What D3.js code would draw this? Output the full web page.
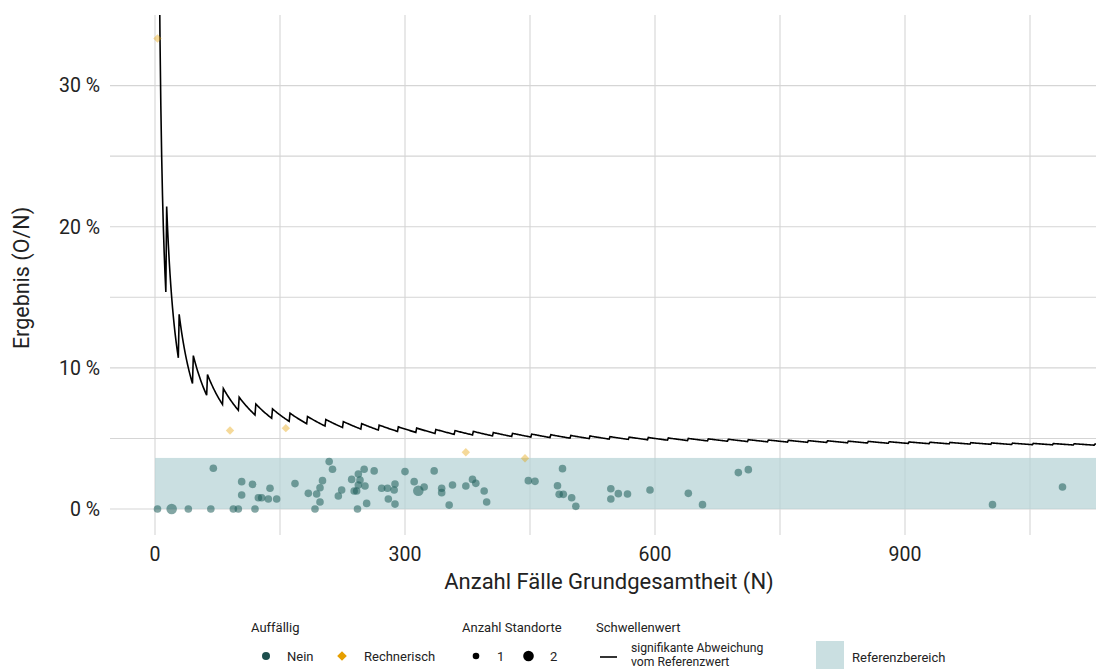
<!DOCTYPE html>
<html>
<head>
<meta charset="utf-8">
<script src="https://cdn.jsdelivr.net/npm/d3@7"></script>
<style>
  html, body { margin: 0; padding: 0; background: #fff; }
  svg { display: block; font-family: Roboto, "Noto Sans", sans-serif; }
</style>
</head>
<body>
<svg id="chart" width="1096" height="669"></svg>
<script>
// Standorte: Fallzahl (N) und Ergebnis (O/N in %)
const caseCounts = [3, 20, 40, 67, 70, 94, 100, 104, 104, 117, 120, 124, 128, 136, 138, 146, 168, 184, 192, 194,
  198, 198, 201, 209, 213, 220, 224, 236, 239, 242, 243, 244, 246, 244, 251, 252, 254, 263, 272, 279,
  280, 287, 288, 288, 300, 311, 316, 323, 335, 344, 344, 353, 357, 373, 381, 385, 395, 398, 448, 456,
  483, 489, 485, 490, 500, 505, 547, 547, 556, 567, 594, 640, 657, 700, 712, 1005, 1089];
const rates = [0, 0, 0, 0, 2.89, 0, 0, 1.94, 0.99, 1.75, 0, 0.80, 0.80, 0.71, 1.47, 0.71, 1.80, 1.11, 0, 1.06,
  0.50, 1.51, 2.01, 3.36, 2.82, 0.92, 1.35, 2.10, 1.28, 1.28, 0, 2.48, 2.06, 1.70, 2.82, 1.63, 0.40, 2.70, 1.47, 1.47,
  0.71, 1.35, 1.77, 0.35, 2.65, 1.94, 1.30, 1.56, 2.70, 1.47, 1.16, 0.28, 1.70, 1.63, 2.10, 1.82, 1.28, 0.50, 2.01, 1.96,
  1.65, 2.86, 1.04, 1.04, 0.80, 0.19, 1.44, 0.71, 1.09, 1.06, 1.35, 1.11, 0.31, 2.58, 2.79, 0.31, 1.56];
const siteCounts = [1, 2, 1, 1, 1, 1, 1, 1, 1, 1, 1, 1, 1, 1, 1, 1, 1, 1, 1, 1,
  1, 1, 1, 1, 1, 1, 1, 1, 1, 1, 1, 1, 1, 1, 1, 1, 1, 1, 1, 1,
  1, 1, 1, 1, 1, 1, 2, 1, 1, 1, 1, 1, 1, 1, 1, 1, 1, 1, 1, 1,
  1, 1, 1, 1, 1, 1, 1, 1, 1, 1, 1, 1, 1, 1, 1, 1, 1];

// Rechnerisch auffällige Standorte
const flaggedCounts = [3, 90, 157, 373, 444];
const flaggedRates = [33.33, 5.56, 5.73, 4.02, 3.60];

// Schwellenwert: Fallzahlen, ab denen die kritische Anzahl O um 1 steigt (Start bei O = 2)
const thresholdStartCount = 2;
const thresholdJumps = [14, 29, 46, 63, 82, 101, 121, 141, 162, 183, 205, 226, 248, 269, 292, 314, 337, 360,
  382, 406, 429, 452, 475, 499, 522, 546, 569, 592, 616, 640, 664, 688, 712, 736, 760, 784, 807, 832,
  856, 881, 905, 930, 954, 979, 1004, 1029, 1054, 1078, 1103, 1128];

// Referenzbereich (obere Grenze, %)
const referenceUpper = 3.62;

const xTicks = [0, 300, 600, 900];
const xMinor = [150, 450, 750, 1050];
const yTicks = [0, 10, 20, 30];
const yMinor = [5, 15, 25];

const svg = d3.select("#chart");
const plotLeft = 110, plotRight = 1096, plotTop = 15, plotBottom = 535;

const x = d3.scaleLinear().domain([-54, 1129.2]).range([plotLeft, plotRight]);
const y = d3.scaleLinear().domain([-1.84, 35]).range([plotBottom, plotTop]);

// Gitter
const grid = svg.append("g");
grid.selectAll("line.vx").data(xMinor.concat(xTicks)).join("line")
  .attr("x1", d => x(d)).attr("x2", d => x(d)).attr("y1", plotTop).attr("y2", plotBottom)
  .attr("stroke", "#d5d5d5").attr("stroke-width", 1.1);
grid.selectAll("line.hy").data(yMinor.concat(yTicks)).join("line")
  .attr("x1", plotLeft).attr("x2", plotRight).attr("y1", d => y(d)).attr("y2", d => y(d))
  .attr("stroke", "#d5d5d5").attr("stroke-width", 1.1);

svg.append("clipPath").attr("id", "plotClip").append("rect")
  .attr("x", plotLeft).attr("y", plotTop).attr("width", plotRight - plotLeft).attr("height", plotBottom - plotTop);

const plot = svg.append("g").attr("clip-path", "url(#plotClip)");

// Referenzbereich
plot.append("rect")
  .attr("x", x(0)).attr("y", y(referenceUpper))
  .attr("width", plotRight - x(0)).attr("height", y(0) - y(referenceUpper))
  .attr("fill", "#b6d3d5").attr("fill-opacity", 0.72);

// Schwellenwertlinie O/N
const thresholdPoints = [];
for (let n = 5; n <= 1130; n++) {
  const k = thresholdStartCount + thresholdJumps.filter(j => j <= n).length;
  thresholdPoints.push([n, 100 * k / n]);
}
plot.append("path")
  .datum(thresholdPoints)
  .attr("fill", "none").attr("stroke", "#000").attr("stroke-width", 1.6)
  .attr("stroke-linejoin", "miter")
  .attr("d", d3.line().x(d => x(d[0])).y(d => y(d[1])));

// Standorte
const sites = caseCounts.map((n, i) => ({ n, r: rates[i], s: siteCounts[i] }));
const radius = d3.scaleOrdinal().domain([1, 2]).range([3.8, 5.3]);
plot.selectAll("circle.site").data(sites).join("circle")
  .attr("cx", d => x(d.n)).attr("cy", d => y(d.r)).attr("r", d => radius(d.s))
  .attr("fill", "#1d5c5a").attr("fill-opacity", 0.55);

const flagged = flaggedCounts.map((n, i) => ({ n, r: flaggedRates[i] }));
const diamond = (cx, cy, h) => `M${cx},${cy - h}L${cx + h},${cy}L${cx},${cy + h}L${cx - h},${cy}Z`;
plot.selectAll("path.flag").data(flagged).join("path")
  .attr("d", d => diamond(x(d.n), y(d.r), 4.2))
  .attr("fill", "#e69f00").attr("fill-opacity", 0.4);

// Achsenbeschriftungen
const textColor = "#222";
svg.append("g").selectAll("text").data(yTicks).join("text")
  .attr("x", 100).attr("y", d => y(d)).attr("dy", "0.35em")
  .attr("text-anchor", "end").attr("font-size", 19.5).attr("fill", textColor)
  .text(d => d + " %");
svg.append("g").selectAll("text").data(xTicks).join("text")
  .attr("x", d => x(d)).attr("y", 561)
  .attr("text-anchor", "middle").attr("font-size", 19.5).attr("fill", textColor)
  .text(d => d);
svg.append("text").attr("x", (plotLeft + plotRight) / 2 + 6).attr("y", 589)
  .attr("text-anchor", "middle").attr("font-size", 22).attr("fill", textColor)
  .text("Anzahl Fälle Grundgesamtheit (N)");
svg.append("text").attr("transform", `translate(29,${(plotTop + plotBottom) / 2 + 3}) rotate(-90)`)
  .attr("text-anchor", "middle").attr("font-size", 21.5).attr("fill", textColor)
  .text("Ergebnis (O/N)");

// Legende
const lg = svg.append("g").attr("font-size", 13).attr("fill", textColor);
const titleY = 632, rowY = 656;
lg.append("text").attr("x", 251).attr("y", titleY).text("Auffällig");
lg.append("circle").attr("cx", 266).attr("cy", rowY).attr("r", 4).attr("fill", "#1d4f4d");
lg.append("text").attr("x", 287).attr("y", rowY).attr("dy", "0.35em").text("Nein");
lg.append("path").attr("d", diamond(342, rowY, 4.8)).attr("fill", "#e69f00");
lg.append("text").attr("x", 364).attr("y", rowY).attr("dy", "0.35em").text("Rechnerisch");

lg.append("text").attr("x", 462).attr("y", titleY).text("Anzahl Standorte");
lg.append("circle").attr("cx", 476).attr("cy", rowY).attr("r", 3.3).attr("fill", "#000");
lg.append("text").attr("x", 497).attr("y", rowY).attr("dy", "0.35em").text("1");
lg.append("circle").attr("cx", 528.5).attr("cy", rowY).attr("r", 5.3).attr("fill", "#000");
lg.append("text").attr("x", 550).attr("y", rowY).attr("dy", "0.35em").text("2");

lg.append("text").attr("x", 596).attr("y", titleY).text("Schwellenwert");
lg.append("line").attr("x1", 600).attr("x2", 617).attr("y1", rowY + 1).attr("y2", rowY + 1)
  .attr("stroke", "#000").attr("stroke-width", 1.6);
lg.append("text").attr("x", 631).attr("y", rowY - 8).attr("dy", "0.35em")
  .attr("font-size", 12.2).text("signifikante Abweichung");
lg.append("text").attr("x", 631).attr("y", rowY + 6).attr("dy", "0.35em")
  .attr("font-size", 12.2).text("vom Referenzwert");

lg.append("rect").attr("x", 816).attr("y", 641).attr("width", 28).attr("height", 28)
  .attr("fill", "#b6d3d5").attr("fill-opacity", 0.72);
lg.append("text").attr("x", 852).attr("y", rowY + 1).attr("dy", "0.35em").text("Referenzbereich");
</script>
</body>
</html>
